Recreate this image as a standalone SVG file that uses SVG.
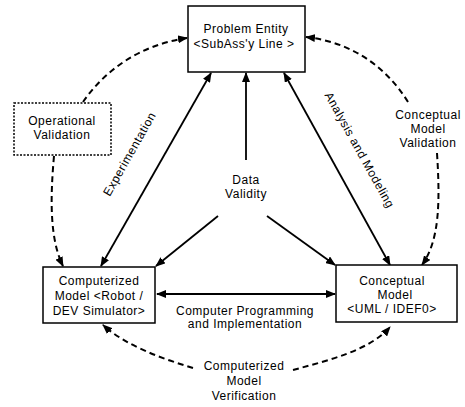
<svg xmlns="http://www.w3.org/2000/svg" width="465" height="407" viewBox="0 0 465 407">
<defs>
<marker id="ah" viewBox="0 0 10 8" refX="9" refY="4" markerWidth="10" markerHeight="8" markerUnits="userSpaceOnUse" orient="auto-start-reverse">
<path d="M0,0 L10,4 L0,8 Z" fill="#000"/>
</marker>
</defs>
<style>
text{font-family:"Liberation Sans",Arial,sans-serif;font-size:12px;letter-spacing:0.5px;fill:#000;text-anchor:middle}
.box{fill:#fff;stroke:#000;stroke-width:1.5}
.dot{fill:#fff;stroke:#000;stroke-width:1.5;stroke-dasharray:2 1.5}
.solid{fill:none;stroke:#000;stroke-width:1.8}
.dash{fill:none;stroke:#000;stroke-width:2;stroke-dasharray:6 4}
</style>
<rect width="465" height="407" fill="#fff"/>
<g id="connectors">
<line class="solid" x1="157" y1="294" x2="335" y2="294" marker-start="url(#ah)" marker-end="url(#ah)"/>
<line class="solid" x1="101" y1="266" x2="211" y2="73" marker-start="url(#ah)" marker-end="url(#ah)"/>
<line class="solid" x1="246" y1="160" x2="246" y2="73" marker-end="url(#ah)"/>
<line class="solid" x1="218" y1="216" x2="156" y2="266" marker-end="url(#ah)"/>
<line class="solid" x1="267" y1="216" x2="335" y2="265" marker-end="url(#ah)"/>
<line class="solid" x1="284" y1="73" x2="390" y2="265" marker-start="url(#ah)" marker-end="url(#ah)"/>
<path class="dash" d="M83 102 C105 70 140 45 187 38" marker-end="url(#ah)"/>
<path class="dash" d="M54 156 C50 200 50 240 63 266" marker-end="url(#ah)"/>
<path class="dash" d="M408 102 C385 65 350 42 306 37" marker-end="url(#ah)"/>
<path class="dash" d="M437 153 C440 200 440 240 422 265" marker-end="url(#ah)"/>
<path class="dash" d="M193 368 C160 358 125 345 103 325" marker-end="url(#ah)"/>
<path class="dash" d="M293 370 C330 360 370 350 390 327" marker-end="url(#ah)"/>
<text transform="translate(133,156) rotate(-60.5)">Experimentation</text>
<text transform="translate(356,152) rotate(61)">Analysis and Modeling</text>
<text x="246" y="184">Data</text>
<text x="246" y="198">Validity</text>
<text x="245" y="315">Computer Programming</text>
<text x="245" y="328">and Implementation</text>
<text x="428" y="119">Conceptual</text>
<text x="428" y="133">Model</text>
<text x="428" y="147">Validation</text>
<text x="244" y="370">Computerized</text>
<text x="244" y="385">Model</text>
<text x="244" y="400">Verification</text>
</g>
<g id="problem-entity">
<rect class="box" x="188" y="6" width="117" height="66"/>
<text x="246" y="33">Problem Entity</text>
<text x="244" y="48">&lt;SubAss'y Line &gt;</text>
</g>
<g id="operational-validation">
<rect class="dot" x="14" y="103" width="97" height="52"/>
<text x="62" y="125">Operational</text>
<text x="62" y="139">Validation</text>
</g>
<g id="computerized-model">
<rect class="box" x="43" y="267" width="112" height="56"/>
<text x="99" y="285">Computerized</text>
<text x="99" y="300">Model &lt;Robot /</text>
<text x="99" y="315">DEV Simulator&gt;</text>
</g>
<g id="conceptual-model">
<rect class="box" x="336" y="265" width="121" height="57"/>
<text x="392" y="285">Conceptual</text>
<text x="395" y="299">Model</text>
<text x="392" y="313">&lt;UML / IDEF0&gt;</text>
</g>
</svg>
